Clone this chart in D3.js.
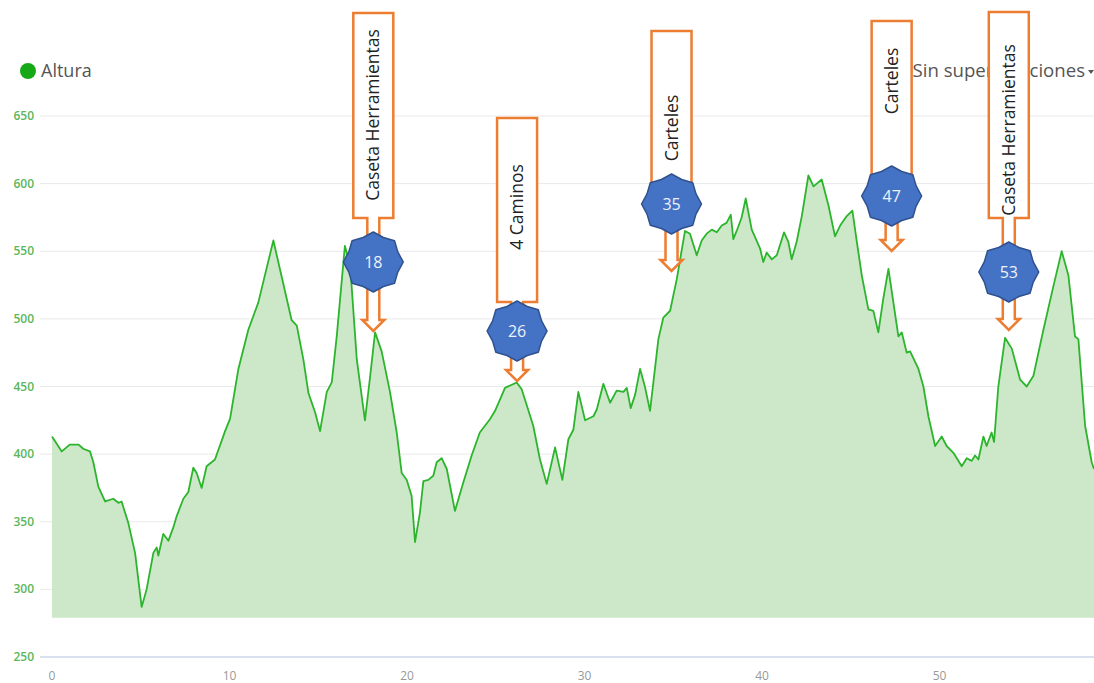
<!DOCTYPE html>
<html>
<head>
<meta charset="utf-8">
<script src="https://cdn.jsdelivr.net/npm/d3@7/dist/d3.min.js"></script>
<style>
  body { margin: 0; background: #fff; }
  svg { display: block; font-family: "Open Sans", "Noto Sans", sans-serif; }
</style>
</head>
<body>
<svg id="chart" width="1094" height="683"></svg>
<script>
var km = [0, 0.55, 1.0, 1.5, 1.76, 2.14, 2.33, 2.61, 2.99, 3.45, 3.74, 3.92, 4.3, 4.68, 5.05, 5.33, 5.71, 5.9, 5.99, 6.27,
  6.56, 6.84, 7.02, 7.4, 7.68, 7.96, 8.15, 8.43, 8.71, 9.18, 9.75, 10.03, 10.5, 11.06, 11.62, 12.47, 13.03, 13.5, 13.79, 14.16,
  14.45, 14.82, 15.1, 15.48, 15.76, 16.04, 16.5, 16.8, 17.17, 17.63, 17.9, 18.2, 18.57, 19.04, 19.42, 19.7, 19.98, 20.26, 20.45, 20.73,
  20.92, 21.2, 21.48, 21.67, 21.95, 22.24, 22.7, 23.17, 23.64, 24.1, 24.68, 24.96, 25.52, 26.18, 26.46, 27.11, 27.49, 27.87, 28.34, 28.75,
  29.09, 29.37, 29.65, 30.03, 30.5, 30.69, 31.06, 31.44, 31.81, 32.19, 32.38, 32.6, 32.85, 33.13, 33.4, 33.69, 34.16, 34.44, 34.82, 35.19,
  35.66, 35.94, 36.32, 36.6, 36.88, 37.17, 37.45, 37.73, 38.0, 38.24, 38.38, 38.57, 38.85, 39.08, 39.42, 39.89, 40.07, 40.26, 40.55, 40.83,
  41.24, 41.48, 41.67, 41.95, 42.24, 42.61, 42.9, 43.36, 43.74, 44.11, 44.4, 44.77, 45.09, 45.34, 45.62, 45.99, 46.27, 46.55, 46.83, 47.12,
  47.4, 47.68, 47.87, 48.15, 48.34, 48.81, 49.09, 49.37, 49.75, 50.12, 50.4, 50.78, 51.25, 51.53, 51.81, 52.0, 52.19, 52.47, 52.65, 52.93,
  53.07, 53.31, 53.69, 54.07, 54.54, 54.91, 55.29, 55.85, 56.41, 56.88, 57.26, 57.63, 57.82, 58.2, 58.57, 58.7];
var altura = [413, 402, 407, 407, 404, 402, 394, 376, 365, 367, 364, 365, 349, 327, 287, 300, 327, 331, 325, 341,
  336, 346, 354, 367, 372, 390, 386, 375, 391, 396, 417, 426, 463, 492, 512, 558, 526, 499, 495, 470,
  445, 431, 417, 446, 453, 487, 554, 539, 470, 425, 455, 490, 476, 446, 416, 386, 381, 369, 335, 357,
  380, 381, 384, 394, 397, 389, 358, 379, 399, 416, 426, 432, 449, 453, 448, 421, 396, 378, 405, 381,
  411, 418, 446, 425, 428, 433, 452, 438, 447, 446, 449, 434, 444, 463, 450, 432, 485, 501, 506, 529,
  565, 563, 547, 558, 563, 566, 564, 569, 571, 577, 559, 565, 575, 589, 566, 552, 542, 549, 544, 547,
  564, 557, 544, 557, 576, 606, 598, 603, 584, 561, 569, 576, 580, 557, 532, 507, 506, 490, 515, 537,
  512, 487, 490, 475, 476, 463, 450, 428, 406, 413, 406, 401, 391, 397, 395, 399, 396, 413, 406, 416,
  409, 450, 486, 478, 455, 450, 458, 492, 524, 550, 532, 487, 485, 421, 394, 389];

var yTicks = [250, 300, 350, 400, 450, 500, 550, 600, 650];
var xTicks = [0, 10, 20, 30, 40, 50];

// puntos marcados en el perfil
var marcaKm = [18.1, 26.2, 34.9, 47.3, 53.9];
var marcaNum = ["18", "26", "35", "47", "53"];
var marcaTexto = ["Caseta Herramientas", "4 Caminos", "Carteles", "Carteles", "Caseta Herramientas"];

// colocacion vertical de cada flecha (px)
var marcaLayout = [
  {top: 13, bottom: 218, badge: 262, tip: 331, text: 115},
  {top: 118, bottom: 302, badge: 331, tip: 381, text: 207},
  {top: 31, bottom: 190, badge: 204, tip: 271, text: 128},
  {top: 21, bottom: 188, badge: 196, tip: 251, text: 81},
  {top: 12, bottom: 218, badge: 272, tip: 330, text: 130}
];

var svg = d3.select("#chart");
var x = d3.scaleLinear().domain([0, 58.7]).range([52, 1094]);
var y = d3.scaleLinear().domain([250, 650]).range([657, 116]);
var gridLeft = 40, gridRight = 1094;

var data = km.map(function(d, i){ return {km: d, alt: altura[i]}; });

// rejilla
svg.append("g").selectAll("line")
  .data(yTicks)
  .enter().append("line")
  .attr("x1", gridLeft).attr("x2", gridRight)
  .attr("y1", function(d){ return y(d); }).attr("y2", function(d){ return y(d); })
  .attr("stroke", function(d){ return d == 250 ? "#ccd6eb" : "#e9e9e9"; })
  .attr("stroke-width", function(d){ return d == 250 ? 1.5 : 1; });

svg.append("g").selectAll("text")
  .data(yTicks)
  .enter().append("text")
  .attr("x", 34).attr("y", function(d){ return y(d) + 4; })
  .attr("text-anchor", "end")
  .attr("fill", "#5cb65c")
  .style("font-size", "12px").style("font-weight", 600)
  .text(function(d){ return d; });

svg.append("g").selectAll("text")
  .data(xTicks)
  .enter().append("text")
  .attr("x", function(d){ return x(d); }).attr("y", 680)
  .attr("text-anchor", "middle")
  .attr("fill", "#999")
  .style("font-size", "12px")
  .text(function(d){ return d; });

// area y linea
var area = d3.area()
  .x(function(d){ return x(d.km); })
  .y0(y(279))
  .y1(function(d){ return y(d.alt); });
var line = d3.line()
  .x(function(d){ return x(d.km); })
  .y(function(d){ return y(d.alt); });

svg.append("path").datum(data).attr("d", area).attr("fill", "#cde7c9");
svg.append("path").datum(data).attr("d", line)
  .attr("fill", "none").attr("stroke", "#2cb52c").attr("stroke-width", 1.8)
  .attr("stroke-linejoin", "round");

// leyenda
svg.append("circle").attr("cx", 28).attr("cy", 71).attr("r", 8).attr("fill", "#17a817");
svg.append("text").attr("x", 41).attr("y", 77)
  .attr("fill", "#555").style("font-size", "18px").text("Altura");

svg.append("text").attr("x", 1085).attr("y", 77).attr("text-anchor", "end")
  .attr("fill", "#555").style("font-size", "18.6px").text("Sin superposiciones");
svg.append("path").attr("d", "M1088,70 L1094,70 L1091,74 Z").attr("fill", "#555");

// flechas con etiqueta
var marcas = svg.append("g").selectAll(".marca")
  .data(marcaKm.map(function(d, i){ return {km: d, num: marcaNum[i], txt: marcaTexto[i], l: marcaLayout[i]}; }))
  .enter().append("g")
  .attr("class", "marca")
  .attr("transform", function(d){ return "translate(" + x(d.km) + ",0)"; });

marcas.append("path")
  .attr("d", function(d){
    var l = d.l;
    return "M-20," + l.top + "H20V" + l.bottom + "H6V" + (l.tip - 11) + "H11L0," + l.tip +
      "L-11," + (l.tip - 11) + "H-6V" + l.bottom + "H-20Z";
  })
  .attr("fill", "#fff").attr("stroke", "#ed7d31").attr("stroke-width", 2.5)
  .attr("stroke-linejoin", "miter");

marcas.append("text")
  .attr("transform", function(d){ return "translate(6," + d.l.text + ") rotate(-90)"; })
  .attr("text-anchor", "middle")
  .attr("fill", "#222")
  .style("font-size", "17.5px")
  .text(function(d){ return d.txt; });

var star = function(n, r0, r1){
  var pts = [];
  for (var i = 0; i < n * 2; i++) {
    var a = Math.PI * i / n - Math.PI / 2;
    var r = i % 2 == 0 ? r0 : r1;
    pts.push([Math.cos(a) * r, Math.sin(a) * r]);
  }
  return "M" + pts.join("L") + "Z";
};

marcas.append("path")
  .attr("transform", function(d){ return "translate(0," + d.l.badge + ")"; })
  .attr("d", star(8, 30, 26.5))
  .attr("fill", "#4472c4").attr("stroke", "#2f528f").attr("stroke-width", 1.5)
  .attr("stroke-linejoin", "round");

marcas.append("text")
  .attr("x", 0).attr("y", function(d){ return d.l.badge + 6; })
  .attr("text-anchor", "middle")
  .attr("fill", "#eef3fb")
  .style("font-size", "16px")
  .text(function(d){ return d.num; });
</script>
</body>
</html>
